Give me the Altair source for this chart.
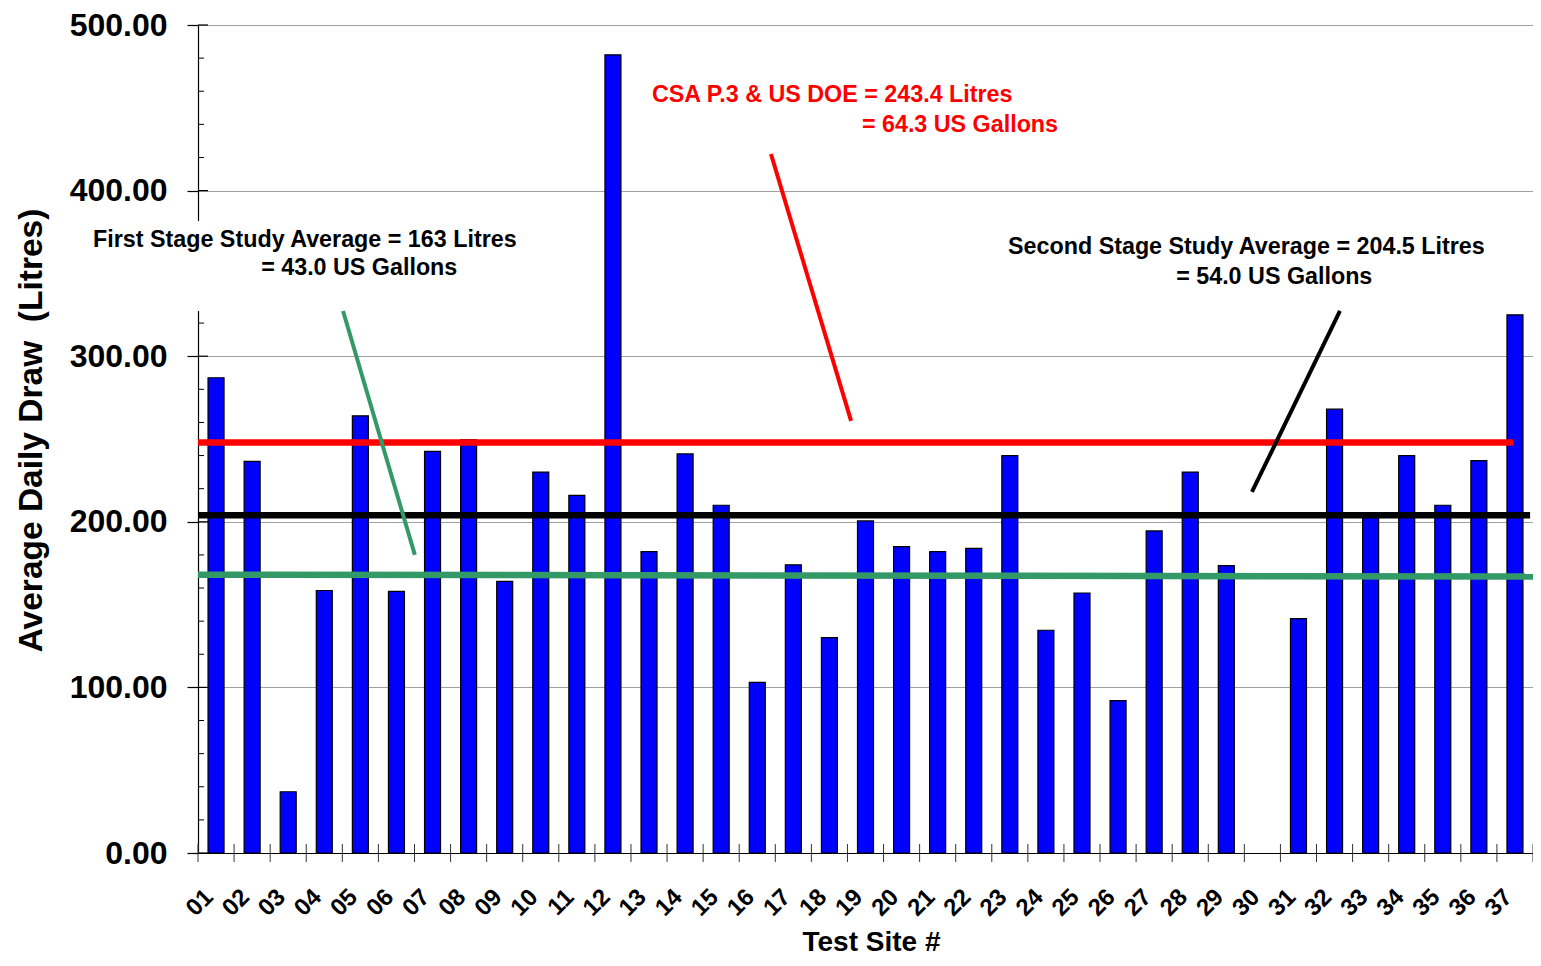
import altair as alt
import pandas as pd

# ---------------- data ----------------
sites = list(range(1, 38))
draw = [287, 236.5, 37, 158.5, 264, 158, 242.5, 249.5, 164, 230,
        216, 482, 182, 241, 210, 103, 174, 130, 200.5, 185,
        182, 184, 240, 134.5, 157, 92, 194.5, 230, 173.5, None,
        141.5, 268, 204, 240, 210, 237, 325]

y_major = [0, 100, 200, 300, 400, 500]
y_minor = [v for v in range(0, 501, 20) if v % 100 != 0]
x_bounds = [i + 0.5 for i in range(0, 38)]

# reference lines (start site, end site, litres at start, litres at end)
csa_line = [0.5, 36.95, 247.9, 247.9]
second_line = [0.5, 37.42, 203.9, 203.9]
first_line = [0.5, 37.5, 168.1, 166.9]

# pointer segments (x1, x2, y1, y2)
first_ptr = [4.52, 6.51, 327.3, 180.0]
csa_ptr = [16.38, 18.60, 422.1, 260.9]
second_ptr = [32.15, 29.71, 327.3, 218.0]

# label box behind the first-stage text (x1, x2, y1, y2)
first_box = [-2.63, 9.56, 381.6, 327.3]

csa_text = ["CSA P.3 & US DOE = 243.4 Litres", "= 64.3 US Gallons"]
csa_tx = [13.08, 18.90]
csa_ty = [457.7, 439.6]

first_text = ["First Stage Study Average = 163 Litres", "= 43.0 US Gallons"]
first_tx = [-2.41, 2.25]
first_ty = [370.2, 353.3]

second_text = ["Second Stage Study Average = 204.5 Litres", "= 54.0 US Gallons"]
second_tx = [22.95, 27.61]
second_ty = [365.9, 347.8]

# ---------------- chart ----------------
W, H = 1335, 828
FONT = "Liberation Sans"

xs = alt.Scale(domain=[0.5, 37.5], nice=False, zero=False, padding=0)
ys = alt.Scale(domain=[0, 500], nice=False, padding=0)

bars_df = pd.DataFrame({"site": sites, "draw": draw}).dropna()

bars = alt.Chart(bars_df).mark_bar(
    size=16, color="#0000FF", stroke="black", strokeWidth=1.2
).encode(
    x=alt.X("site:Q", scale=xs, axis=alt.Axis(
        values=sites, tickCount=40,
        labelExpr="datum.value < 10 ? '0' + datum.value : '' + datum.value",
        labelAngle=315, labelAlign="right", labelBaseline="middle",
        labelFont=FONT, labelFontSize=24, labelFontWeight="bold", labelColor="black",
        labelPadding=40, labelOffset=-7, labelFlush=False, labelOverlap=False,
        ticks=False, tickSize=0, grid=False,
        domainColor="black", domainWidth=1.2, zindex=0,
        title="Test Site #", titleFont=FONT, titleFontSize=28, titleFontWeight="bold",
        titleColor="black", titleX=673, titleY=89, titleAlign="center",
        titleBaseline="middle",
    )),
    y=alt.Y("draw:Q", scale=ys, axis=alt.Axis(
        values=y_major, tickCount=10, format=".2f",
        labelFont=FONT, labelFontSize=32, labelFontWeight="bold", labelColor="black",
        labelPadding=20, labelOverlap=False,
        tickSize=11, tickColor="black", tickWidth=1.2,
        domainColor="black", domainWidth=1.2,
        grid=True, gridColor="#A0A0A0", gridWidth=1.2, zindex=0,
        title="Average Daily Draw \u00a0(Litres)", titleFont=FONT, titleFontSize=33.5,
        titleFontWeight="bold", titleColor="black",
        titleAngle=270, titleX=-167, titleY=405, titleAlign="center", titleBaseline="middle",
    )),
)

ymaj = alt.Chart(pd.DataFrame({"draw": y_major})).mark_rule(color="black", strokeWidth=1.2).encode(
    y=alt.Y("draw:Q", scale=ys), x=alt.value(0), x2=alt.value(10))
ymin = alt.Chart(pd.DataFrame({"draw": y_minor})).mark_rule(color="black", strokeWidth=1).encode(
    y=alt.Y("draw:Q", scale=ys), x=alt.value(0), x2=alt.value(6))
xt = alt.Chart(pd.DataFrame({"site": x_bounds})).mark_rule(color="#333333", strokeWidth=1).encode(
    x=alt.X("site:Q", scale=xs), y=alt.value(H - 9), y2=alt.value(H + 9))


def seg(s, color, width):
    df = pd.DataFrame({"site": [s[0]], "x2": [s[1]], "draw": [s[2]], "y2": [s[3]]})
    return alt.Chart(df).mark_rule(color=color, strokeWidth=width).encode(
        x=alt.X("site:Q", scale=xs), x2="x2",
        y=alt.Y("draw:Q", scale=ys), y2="y2")


box_df = pd.DataFrame({"site": [first_box[0]], "x2": [first_box[1]],
                       "draw": [first_box[2]], "y2": [first_box[3]]})
box = alt.Chart(box_df).mark_rect(color="white").encode(
    x=alt.X("site:Q", scale=xs), x2="x2",
    y=alt.Y("draw:Q", scale=ys), y2="y2")


def txt(texts, xv, yv, color):
    df = pd.DataFrame({"t": texts, "site": xv, "draw": yv})
    return alt.Chart(df).mark_text(
        align="left", baseline="middle", font=FONT, fontSize=23.3,
        fontWeight="bold", color=color
    ).encode(x=alt.X("site:Q", scale=xs),
             y=alt.Y("draw:Q", scale=ys), text="t:N")


chart = alt.layer(
    bars,
    ymaj, ymin, xt,
    seg(csa_line, "#FF0000", 6.5),
    seg(second_line, "black", 6.5),
    seg(first_line, "#339966", 6.5),
    box,
    seg(first_ptr, "#339966", 4),
    seg(csa_ptr, "#FF0000", 4),
    seg(second_ptr, "black", 4),
    txt(csa_text, csa_tx, csa_ty, "#FF0000"),
    txt(first_text, first_tx, first_ty, "black"),
    txt(second_text, second_tx, second_ty, "black"),
).properties(
    width=W, height=H,
    padding={"left": 190, "top": 17, "right": 0, "bottom": 105},
    autosize=alt.AutoSizeParams(type="none"),
).configure_view(stroke=None)

chart.save("out.html", embed_options={"renderer": "svg", "actions": False})
